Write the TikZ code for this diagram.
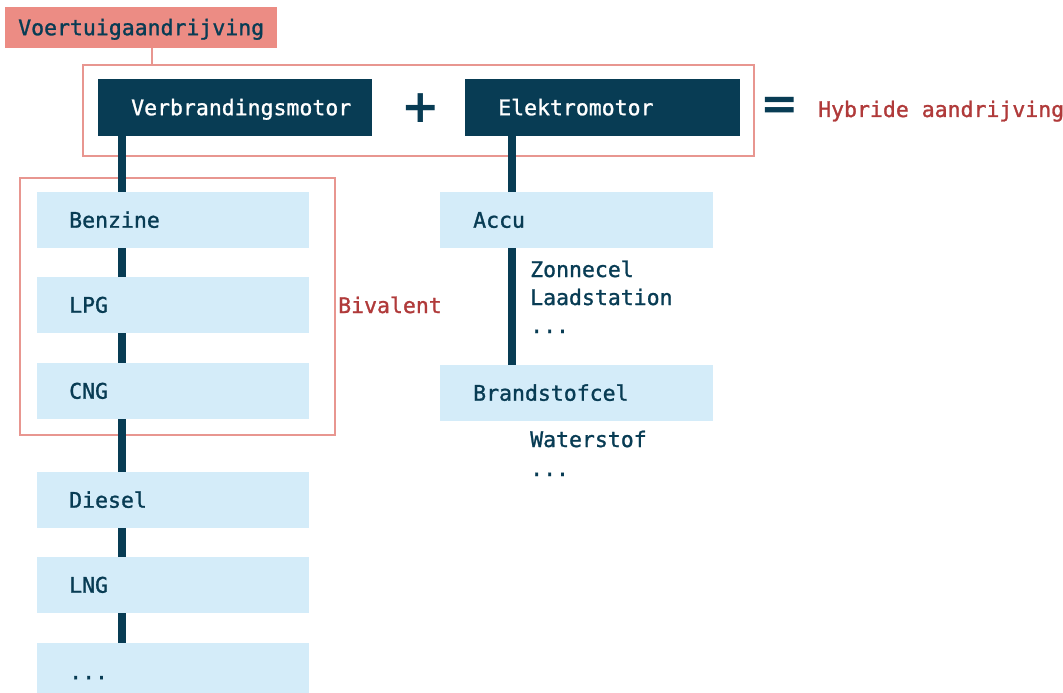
\documentclass[tikz,border=0pt]{standalone}
\usepackage{fontspec}
\setmainfont{DejaVu Sans Mono}[FakeBold=1.2, AutoFakeBold=1.2]
\newfontfamily\symfont{DejaVu Sans}
\definecolor{navy}{RGB}{8,60,84}
\definecolor{salmonfill}{RGB}{236,140,132}
\definecolor{salmonline}{RGB}{232,150,144}
\definecolor{redtext}{RGB}{176,58,58}
\definecolor{lightblue}{RGB}{212,236,249}
\tikzset{
  txt/.style={font=\fontsize{21.5}{24}\selectfont\bfseries, text height=15pt, text depth=0pt},
  darkbox/.style={txt, fill=navy, text=white, anchor=north west, minimum height=57pt,
    text width=208pt, inner xsep=33pt, inner ysep=0pt, align=left},
  fuelbox/.style={txt, fill=lightblue, text=navy, anchor=north west, minimum height=56pt,
    text width=208pt, inner xsep=32pt, inner ysep=0pt, align=left},
  stem/.style={draw=navy, line width=8pt},
  frame/.style={draw=salmonline, line width=2pt, anchor=north west, inner sep=0pt},
  note/.style={txt, text=navy, anchor=base west, inner sep=0pt},
  rednote/.style={txt, text=redtext, anchor=base west, inner sep=0pt},
}
\begin{document}
\begin{tikzpicture}[x=1pt,y=-1pt]
\useasboundingbox (0,0) rectangle (1063,693);
% title
\node[txt, fill=salmonfill, text=navy, anchor=north west, minimum width=272pt, minimum height=41pt, inner sep=0pt] (title) at (5,7) {Voertuigaandrijving};
% hybrid frame
\node[frame, minimum width=671pt, minimum height=91pt] (grp) at (82,64) {};
\draw[salmonline, line width=2pt] (title.south -| 152,0) -- (grp.north -| 152,0);
% engines
\node[darkbox, text width=208pt] (vm) at (98,79) {Verbrandingsmotor};
\node[darkbox, text width=209pt] (em) at (465,79) {Elektromotor};
\node[text=navy, font=\symfont\bfseries\fontsize{46}{46}\selectfont, inner sep=0pt] (plus) at (421,108) {+};
\node[text=navy, font=\symfont\bfseries\fontsize{46}{46}\selectfont, inner sep=0pt] (eq) at (780,108) {=};
\node[rednote] (hyb) at (818,117) {Hybride aandrijving};
% bivalent frame
\node[frame, minimum width=315pt, minimum height=257pt] (biv) at (19,177) {};
\node[rednote] (bivlabel) at (338,313) {Bivalent};
% fuel boxes left
\node[fuelbox] (ben) at (37,192) {Benzine};
\node[fuelbox] (lpg) at (37,277) {LPG};
\node[fuelbox] (cng) at (37,363) {CNG};
\node[fuelbox] (die) at (37,472) {Diesel};
\node[fuelbox] (lng) at (37,557) {LNG};
\node[fuelbox, minimum height=57pt] (more) at (37,643) {...};
% right column
\node[fuelbox, text width=207pt, inner xsep=33pt] (accu) at (440,192) {Accu};
\node[fuelbox, text width=207pt, inner xsep=33pt] (bsc) at (440,365) {Brandstofcel};
\node[note] (zon) at (530,277) {Zonnecel};
\node[note] (laad) at (530,305) {Laadstation};
\node[note] (dots1) at (530,333) {...};
\node[note] (wat) at (530,447) {Waterstof};
\node[note] (dots2) at (530,476) {...};
% stems
\coordinate (L) at (122,0);
\coordinate (R) at (512,0);
\draw[stem] (vm.south -| L) -- (ben.north -| L);
\draw[stem] (ben.south -| L) -- (lpg.north -| L);
\draw[stem] (lpg.south -| L) -- (cng.north -| L);
\draw[stem] (cng.south -| L) -- (die.north -| L);
\draw[stem] (die.south -| L) -- (lng.north -| L);
\draw[stem] (lng.south -| L) -- (more.north -| L);
\draw[stem] (em.south -| R) -- (accu.north -| R);
\draw[stem] (accu.south -| R) -- (bsc.north -| R);
\end{tikzpicture}
\end{document}
